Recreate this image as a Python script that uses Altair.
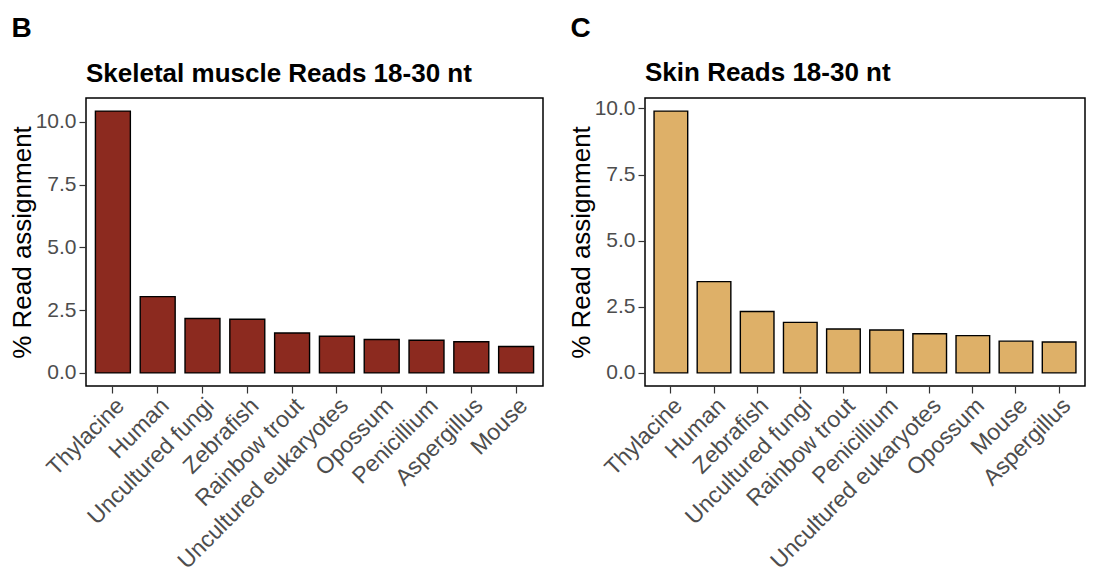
import altair as alt
import pandas as pd

# ---- data ----
muscle_species = ["Thylacine", "Human", "Uncultured fungi", "Zebrafish", "Rainbow trout",
                  "Uncultured eukaryotes", "Opossum", "Penicillium", "Aspergillus", "Mouse"]
muscle_values = [10.43, 3.04, 2.17, 2.14, 1.59, 1.46, 1.33, 1.30, 1.24, 1.05]

skin_species = ["Thylacine", "Human", "Zebrafish", "Uncultured fungi", "Rainbow trout",
                "Penicillium", "Uncultured eukaryotes", "Opossum", "Mouse", "Aspergillus"]
skin_values = [9.90, 3.45, 2.32, 1.91, 1.66, 1.62, 1.48, 1.41, 1.20, 1.17]

y_ticks = [0.0, 2.5, 5.0, 7.5, 10.0]
y_title = "% Read assignment"

FONT = "Liberation Sans"
H = 288


def panel(letter, title, species, values, color, width):
    df = pd.DataFrame({"species": species, "value": values})
    vmax = max(values)
    bars = alt.Chart(df).mark_bar(
        color=color, stroke="black", strokeWidth=1.4
    ).encode(
        x=alt.X("species:N", sort=species, title=None,
                scale=alt.Scale(paddingInner=0.22, paddingOuter=0.21),
                axis=alt.Axis(labelAngle=-45, labelAlign="right", labelBaseline="top",
                              labelFontSize=23, labelColor="#4D4D4D", labelLimit=0,
                              labelPadding=1, tickSize=7, tickColor="#333333",
                              tickWidth=1.2, domain=False, labelOverlap=False)),
        y=alt.Y("value:Q", title=y_title,
                scale=alt.Scale(domain=[-0.05 * vmax, 1.05 * vmax], nice=False, zero=False),
                axis=alt.Axis(values=y_ticks, format=".1f", grid=False, domain=False,
                              labelFontSize=21, labelColor="#4D4D4D", labelPadding=3,
                              tickSize=7, tickColor="#333333", tickWidth=1.2,
                              titleFontSize=26, titleFontWeight="normal", titleColor="black",
                              titlePadding=0)),
        y2=alt.datum(0),
    ).properties(
        width=width, height=H,
        title=alt.TitleParams(title, anchor="start", frame="group", fontSize=26,
                              fontWeight="bold", color="black", baseline="alphabetic",
                              offset=-10, font=FONT),
    )
    return alt.hconcat(bars).properties(
        title=alt.TitleParams(letter, anchor="start", fontSize=28, fontWeight="bold",
                              color="black", baseline="alphabetic", offset=-5, dx=3,
                              font=FONT)
    )


b = panel("B", "Skeletal muscle Reads 18-30 nt", muscle_species, muscle_values, "#8C2A1F", 457)
c = panel("C", "Skin Reads 18-30 nt", skin_species, skin_values, "#DEB068", 440)

chart = alt.hconcat(b, c, spacing=23).properties(
    padding={"top": 6, "left": 0, "right": 0, "bottom": 0}
).configure(
    font=FONT
).configure_view(stroke="black", strokeWidth=1.5).configure_axis(
    labelFont=FONT, titleFont=FONT
)

chart.save("out.html", embed_options={"renderer": "svg", "actions": False})
